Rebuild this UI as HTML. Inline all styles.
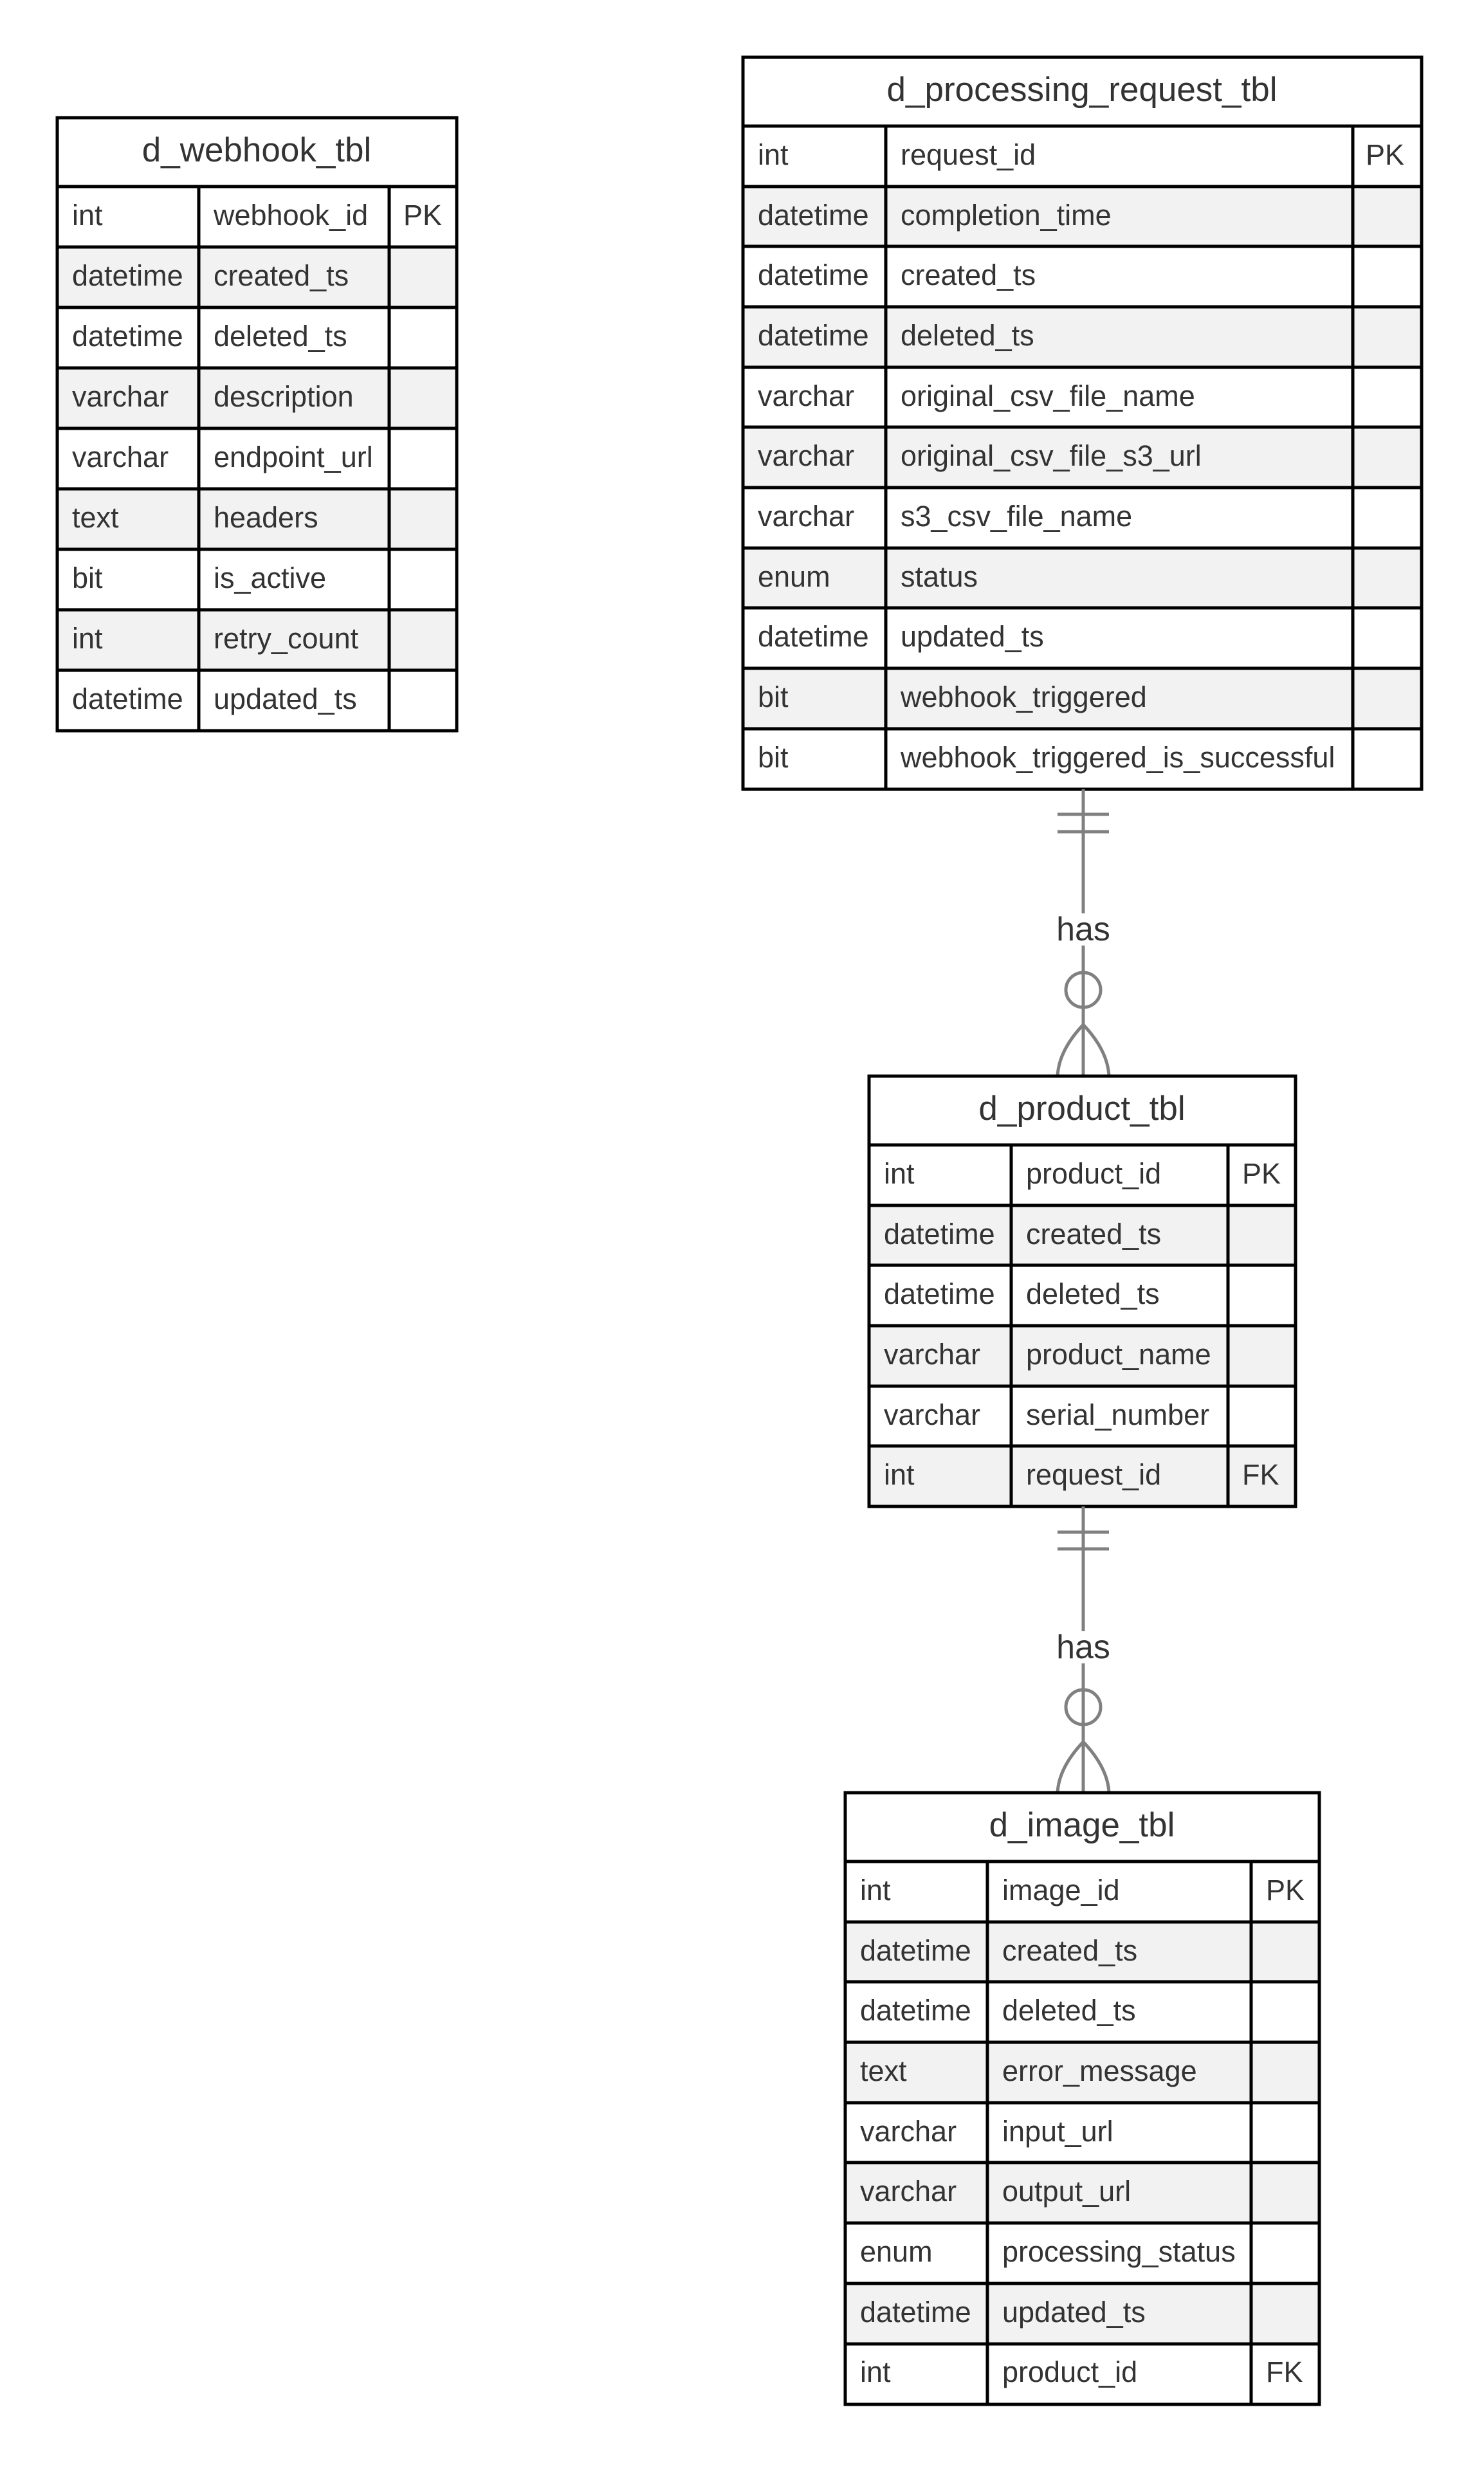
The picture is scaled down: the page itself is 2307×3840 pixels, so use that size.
<!DOCTYPE html>
<html><head><meta charset="utf-8"><style>
html,body{margin:0;padding:0;background:#fff;}
svg{display:block;}
text{font-family:"Liberation Sans",Arial,sans-serif;fill:#333;}
.t{font-size:53px;text-anchor:middle;}
.c{font-size:45px;}
.g{fill:#f2f2f2;}
.b{stroke:#000;stroke-width:5;fill:none;}
.k{stroke:#808080;stroke-width:5;fill:none;}
</style></head><body>
<svg width="2307" height="3840" viewBox="0 0 2307 3840" xmlns="http://www.w3.org/2000/svg">
<rect width="2307" height="3840" fill="#fff"/>

<g transform="translate(89,183)">
<rect class="g" x="0" y="201" width="621" height="94"/>
<rect class="g" x="0" y="389" width="621" height="94"/>
<rect class="g" x="0" y="577" width="621" height="94"/>
<rect class="g" x="0" y="765" width="621" height="94"/>
<text class="t" x="310" y="68">d_webhook_tbl</text>
<g class="c">
<text x="23" y="167">int</text><text x="243" y="167">webhook_id</text><text x="538" y="167">PK</text>
<text x="23" y="261">datetime</text><text x="243" y="261">created_ts</text>
<text x="23" y="355">datetime</text><text x="243" y="355">deleted_ts</text>
<text x="23" y="449">varchar</text><text x="243" y="449">description</text>
<text x="23" y="543">varchar</text><text x="243" y="543">endpoint_url</text>
<text x="23" y="637">text</text><text x="243" y="637">headers</text>
<text x="23" y="731">bit</text><text x="243" y="731">is_active</text>
<text x="23" y="825">int</text><text x="243" y="825">retry_count</text>
<text x="23" y="919">datetime</text><text x="243" y="919">updated_ts</text>
</g>
<rect class="b" x="0" y="0" width="621" height="953"/>
<path class="b" d="M0,107H621M0,201H621M0,295H621M0,389H621M0,483H621M0,577H621M0,671H621M0,765H621M0,859H621M220,107V953M516,107V953"/>
</g>

<g transform="translate(1155,89)">
<rect class="g" x="0" y="201" width="1055" height="94"/>
<rect class="g" x="0" y="388" width="1055" height="94"/>
<rect class="g" x="0" y="575" width="1055" height="94"/>
<rect class="g" x="0" y="763" width="1055" height="94"/>
<rect class="g" x="0" y="950" width="1055" height="94"/>
<text class="t" x="527" y="68">d_processing_request_tbl</text>
<g class="c">
<text x="23" y="167">int</text><text x="245" y="167">request_id</text><text x="968" y="167">PK</text>
<text x="23" y="261">datetime</text><text x="245" y="261">completion_time</text>
<text x="23" y="354">datetime</text><text x="245" y="354">created_ts</text>
<text x="23" y="448">datetime</text><text x="245" y="448">deleted_ts</text>
<text x="23" y="542">varchar</text><text x="245" y="542">original_csv_file_name</text>
<text x="23" y="635">varchar</text><text x="245" y="635">original_csv_file_s3_url</text>
<text x="23" y="729">varchar</text><text x="245" y="729">s3_csv_file_name</text>
<text x="23" y="823">enum</text><text x="245" y="823">status</text>
<text x="23" y="916">datetime</text><text x="245" y="916">updated_ts</text>
<text x="23" y="1010">bit</text><text x="245" y="1010">webhook_triggered</text>
<text x="23" y="1104">bit</text><text x="245" y="1104">webhook_triggered_is_successful</text>
</g>
<rect class="b" x="0" y="0" width="1055" height="1138"/>
<path class="b" d="M0,107H1055M0,201H1055M0,294H1055M0,388H1055M0,482H1055M0,575H1055M0,669H1055M0,763H1055M0,856H1055M0,950H1055M0,1044H1055M222,107V1138M948,107V1138"/>
</g>

<line class="k" x1="1684" y1="1227" x2="1684" y2="1673"/>
<path class="k" d="M1644,1266H1724M1644,1293H1724"/>
<rect x="1640" y="1420" width="88" height="50" fill="#fff"/>
<text x="1684" y="1462" font-size="52" text-anchor="middle">has</text>
<circle class="k" cx="1684" cy="1539" r="27" fill="#fff"/>
<path class="k" d="M1684,1593Q1646,1633 1644,1673M1684,1593Q1722,1633 1724,1673"/>

<g transform="translate(1351,1673)">
<rect class="g" x="0" y="201" width="663" height="94"/>
<rect class="g" x="0" y="388" width="663" height="94"/>
<rect class="g" x="0" y="575" width="663" height="94"/>
<text class="t" x="331" y="68">d_product_tbl</text>
<g class="c">
<text x="23" y="167">int</text><text x="244" y="167">product_id</text><text x="580" y="167">PK</text>
<text x="23" y="261">datetime</text><text x="244" y="261">created_ts</text>
<text x="23" y="354">datetime</text><text x="244" y="354">deleted_ts</text>
<text x="23" y="448">varchar</text><text x="244" y="448">product_name</text>
<text x="23" y="542">varchar</text><text x="244" y="542">serial_number</text>
<text x="23" y="635">int</text><text x="244" y="635">request_id</text><text x="580" y="635">FK</text>
</g>
<rect class="b" x="0" y="0" width="663" height="669"/>
<path class="b" d="M0,107H663M0,201H663M0,294H663M0,388H663M0,482H663M0,575H663M221,107V669M558,107V669"/>
</g>

<line class="k" x1="1684" y1="2342" x2="1684" y2="2787"/>
<path class="k" d="M1644,2382H1724M1644,2408H1724"/>
<rect x="1640" y="2536" width="88" height="50" fill="#fff"/>
<text x="1684" y="2578" font-size="52" text-anchor="middle">has</text>
<circle class="k" cx="1684" cy="2654" r="27" fill="#fff"/>
<path class="k" d="M1684,2708Q1646,2748 1644,2787M1684,2708Q1722,2748 1724,2787"/>

<g transform="translate(1314,2787)">
<rect class="g" x="0" y="201" width="737" height="94"/>
<rect class="g" x="0" y="388" width="737" height="94"/>
<rect class="g" x="0" y="575" width="737" height="94"/>
<rect class="g" x="0" y="763" width="737" height="94"/>
<text class="t" x="368" y="68">d_image_tbl</text>
<g class="c">
<text x="23" y="167">int</text><text x="244" y="167">image_id</text><text x="654" y="167">PK</text>
<text x="23" y="261">datetime</text><text x="244" y="261">created_ts</text>
<text x="23" y="354">datetime</text><text x="244" y="354">deleted_ts</text>
<text x="23" y="448">text</text><text x="244" y="448">error_message</text>
<text x="23" y="542">varchar</text><text x="244" y="542">input_url</text>
<text x="23" y="635">varchar</text><text x="244" y="635">output_url</text>
<text x="23" y="729">enum</text><text x="244" y="729">processing_status</text>
<text x="23" y="823">datetime</text><text x="244" y="823">updated_ts</text>
<text x="23" y="916">int</text><text x="244" y="916">product_id</text><text x="654" y="916">FK</text>
</g>
<rect class="b" x="0" y="0" width="737" height="951"/>
<path class="b" d="M0,107H737M0,201H737M0,294H737M0,388H737M0,482H737M0,575H737M0,669H737M0,763H737M0,857H737M221,107V951M631,107V951"/>
</g>
</svg>
</body></html>
